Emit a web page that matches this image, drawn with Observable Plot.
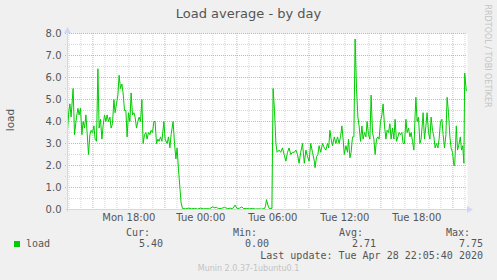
<!DOCTYPE html>
<html><head><meta charset="utf-8">
<script src="https://cdn.jsdelivr.net/npm/d3@7"></script>
<script src="https://cdn.jsdelivr.net/npm/@observablehq/plot@0.6"></script>
<style>
body{margin:0;background:#f0f0f0;}
#wrap{position:relative;width:497px;height:280px;overflow:hidden;background:#f0f0f0;font-family:"DejaVu Sans",sans-serif;color:#555;}
#chart{position:absolute;left:0;top:0;}
.t{position:absolute;white-space:nowrap;}
.mono{font-family:"DejaVu Sans Mono",monospace;font-size:10px;color:#555;line-height:12px;}
</style></head><body>
<div id="wrap">
  <div id="chart"></div>
  <div class="t" style="left:0;width:497px;top:5px;text-align:center;font-size:13px;line-height:18px;color:#555;">Load average - by day</div>
  <div class="t" style="left:10px;top:120px;font-size:10.5px;line-height:12px;transform:translate(-50%,-50%) rotate(-90deg);color:#555;">load</div>
  <div class="t" style="left:487px;top:56px;font-size:8px;line-height:10px;transform:translate(-50%,-50%) rotate(90deg);color:#c4c4c4;">RRDTOOL / TOBI OETIKER</div>
  <div id="legend"></div>
  <div class="t" style="left:0;width:497px;top:263px;text-align:center;font-size:8px;line-height:12px;color:#c4c4c4;">Munin 2.0.37-1ubuntu0.1</div>
</div>
<script>
const startTime = "2020-04-27T12:53:00Z";
const endTime = "2020-04-28T22:13:00Z";
// minutes after startTime
const minutes = [
0,7,12,18,28,35,45,52,58,65,72,78,85,92,98,105,112,118,125,132,138,145,152,158,165,172,178,185,192,198,
205,212,218,225,232,238,245,252,258,265,272,278,285,292,298,305,312,318,325,332,338,345,352,358,365,372,378,385,392,398,
405,412,418,425,432,438,445,452,458,465,472,482,488,498,505,512,518,528,535,542,548,555,562,568,575,590,605,620,635,650,
665,680,695,710,725,735,745,755,770,785,800,815,825,838,848,860,872,880,895,910,925,940,955,970,985,990,995,1002,1008,1022,
1028,1035,1042,1048,1058,1066,1075,1083,1092,1100,1108,1116,1125,1134,1142,1150,1158,1166,1175,1184,1192,1200,1208,1216,1225,1234,1238,1245,1252,1258,
1266,1275,1284,1292,1300,1306,1312,1318,1325,1334,1342,1350,1358,1365,1372,1378,1384,1392,1400,1405,1412,1418,1425,1432,1438,1445,1452,1458,1465,1472,
1478,1485,1492,1498,1505,1512,1518,1525,1532,1538,1545,1552,1558,1565,1572,1578,1585,1592,1598,1605,1612,1618,1625,1632,1638,1645,1652,1658,1665,1672,
1678,1685,1692,1698,1705,1712,1718,1725,1732,1738,1742,1748,1755,1762,1768,1775,1778,1785,1792,1798,1805,1812,1818,1825,1832,1838,1845,1852,1858,1865,
1872,1878,1885,1892,1898,1905,1912,1918,1925,1932,1936,1944,1950,1956,1964,1970,1976,1982,1986,1994
];
const load = [
3.6,4.5,4.8,4.2,5.5,3.4,4.2,4.6,4.3,4.6,3.4,4.0,3.7,4.3,3.5,2.5,3.4,3.6,3.5,3.8,3.2,3.1,6.4,3.7,4.1,3.2,3.8,4.3,4.0,4.3,
4.0,4.2,3.7,3.9,5.0,4.4,4.8,5.2,6.1,5.5,5.7,5.3,4.5,4.5,3.3,4.4,4.0,5.3,4.3,4.4,4.2,3.7,4.0,4.2,4.0,5.0,3.0,3.4,3.5,3.2,
3.5,3.4,3.6,3.5,4.0,4.0,3.0,3.2,3.1,3.3,3.1,4.0,3.2,3.0,3.3,2.8,3.4,4.0,3.0,2.3,2.8,1.8,1.0,0.3,0.05,0.03,0.06,0.03,0.05,0.02,
0.06,0.03,0.04,0.03,0.12,0.08,0.1,0.04,0.05,0.1,0.04,0.06,0.03,0.2,0.04,0.06,0.12,0.04,0.05,0.03,0.05,0.02,0.03,0.02,0.04,0.15,0.45,0.2,0.05,0.05,
5.5,4.5,3.0,2.6,2.7,2.6,2.8,2.5,2.2,2.6,2.8,2.5,2.6,2.6,2.7,2.5,2.1,2.6,3.0,2.1,2.7,2.4,2.2,3.0,2.6,2.2,1.9,2.4,2.5,2.9,
2.6,3.0,2.8,2.7,3.0,2.8,3.6,3.2,2.9,3.3,3.0,3.3,3.0,3.3,3.8,3.2,2.5,2.9,2.6,3.2,2.35,2.6,3.3,3.3,7.75,5.5,4.2,3.8,3.1,3.8,
3.2,3.5,3.3,4.0,3.4,3.2,5.2,3.5,3.2,2.5,3.2,3.3,3.2,4.0,4.3,4.8,3.8,3.2,3.6,3.5,3.9,3.2,3.7,3.2,4.1,3.1,3.3,3.5,3.4,3.5,
3.0,3.0,4.1,3.5,3.7,3.3,3.5,3.1,2.7,4.3,5.1,4.0,4.2,3.0,3.2,4.0,4.4,3.2,3.8,4.4,3.5,3.2,4.2,3.6,3.3,2.8,3.0,2.8,3.2,4.0,
4.1,3.4,2.8,3.4,5.1,4.4,3.3,2.8,2.6,2.0,2.0,3.8,2.7,2.9,3.3,2.7,2.9,2.1,6.2,5.4
];
const yTicks = [0,1,2,3,4,5,6,7,8];
const yMinorTicks = [0.5,1.5,2.5,3.5,4.5,5.5,6.5,7.5];
const xTickTimes = ["2020-04-27T18:00:00Z","2020-04-28T00:00:00Z","2020-04-28T06:00:00Z","2020-04-28T12:00:00Z","2020-04-28T18:00:00Z"];
const xTickLabels = ["Mon 18:00","Tue 00:00","Tue 06:00","Tue 12:00","Tue 18:00"];
const statNames = ["Cur:","Min:","Avg:","Max:"];
const statValues = ["5.40","0.00","2.71","7.75"];
const seriesName = "load";
const lastUpdate = "Last update: Tue Apr 28 22:05:40 2020";

const t0 = new Date(startTime), t1 = new Date(endTime);
const data = minutes.map((m, i) => ({date: new Date(+t0 + m * 60000), load: load[i]}));
const hours = d3.utcHour.range(t0, t1);
const majorHours = hours.filter(d => d.getUTCHours() % 6 === 3);
const minorHours = hours.filter(d => d.getUTCHours() % 6 !== 3);
const tickDates = xTickTimes.map(s => new Date(s));

const minorColor = "#d6d6d6", majorColor = "#f3a3a3", axisColor = "#CFD6F8";
const plot = Plot.plot({
  width: 497, height: 280,
  marginLeft: 67, marginRight: 30, marginTop: 33, marginBottom: 71,
  style: {background: "transparent", color: "#555", fontFamily: "DejaVu Sans", fontSize: "10px"},
  x: {type: "utc", domain: [t0, t1], label: null},
  y: {domain: [0, 8], label: null},
  marks: [
    Plot.frame({fill: "white", stroke: "none"}),
    Plot.ruleX(minorHours, {stroke: minorColor, strokeDasharray: "1,1", insetBottom: -2}),
    Plot.ruleY(yMinorTicks, {stroke: minorColor, strokeDasharray: "1,1", insetLeft: -2}),
    Plot.ruleX(majorHours, {stroke: majorColor, strokeDasharray: "1,1", insetBottom: -2}),
    Plot.ruleY(yTicks.filter(d => d > 0), {stroke: majorColor, strokeDasharray: "1,1", insetLeft: -2}),
    Plot.lineY(data, {x: "date", y: "load", stroke: "#00cc00", strokeWidth: 1}),
    Plot.axisX(tickDates, {tickFormat: (d, i) => xTickLabels[i], tickSize: 0, tickPadding: 4, fontSize: 10, label: null}),
    Plot.axisY(yTicks, {tickFormat: d => d.toFixed(1), tickSize: 0, tickPadding: 6, fontSize: 10, label: null})
  ]
});
document.getElementById("chart").appendChild(plot);

// axis lines and arrows (rrdtool style)
const xs = plot.scale("x"), ys = plot.scale("y");
const xl = xs.apply(t0) + 0.5, xr = xs.apply(t1), yb = ys.apply(0) + 0.5, yt = ys.apply(8);
const svg = d3.select(plot);
const g = svg.append("g");
g.append("line").attr("x1", xl - 2).attr("x2", xr + 3).attr("y1", yb).attr("y2", yb).attr("stroke", axisColor);
g.append("line").attr("x1", xl).attr("x2", xl).attr("y1", yb + 2).attr("y2", yt - 4).attr("stroke", axisColor);
g.append("path").attr("d", `M${xr},${yb - 3.5}L${xr + 6},${yb}L${xr},${yb + 3.5}Z`).attr("fill", axisColor);
g.append("path").attr("d", `M${xl - 3.5},${yt}L${xl},${yt - 6}L${xl + 3.5},${yt}Z`).attr("fill", axisColor);

// legend
const leg = document.getElementById("legend");
const headRight = [150, 257, 363, 470];
const valRight = [163, 269, 376, 483];
function span(text, top, right, left) {
  const s = document.createElement("div");
  s.className = "t mono";
  s.textContent = text;
  s.style.top = top + "px";
  if (right != null) s.style.right = (497 - right) + "px";
  if (left != null) s.style.left = left + "px";
  leg.appendChild(s);
}
statNames.forEach((n, i) => span(n, 227, headRight[i]));
statValues.forEach((v, i) => span(v, 238, valRight[i]));
span(seriesName, 238, null, 26);
span(lastUpdate, 250, 483);
const sq = document.createElement("div");
sq.className = "t";
Object.assign(sq.style, {left: "14px", top: "241px", width: "6px", height: "6px", background: "#00cc00"});
leg.appendChild(sq);
</script>
</body></html>
